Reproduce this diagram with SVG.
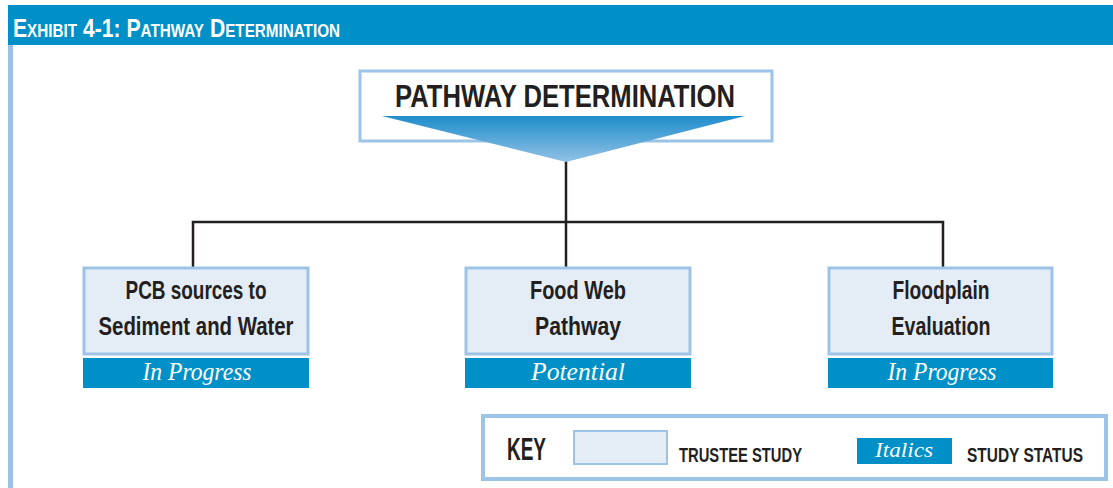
<svg xmlns="http://www.w3.org/2000/svg" width="1113" height="488" viewBox="0 0 1113 488">
<defs>
<linearGradient id="tri" x1="0" y1="0" x2="0" y2="1">
<stop offset="0" stop-color="#1f8dcb"/>
<stop offset="1" stop-color="#92c1e5"/>
</linearGradient>
<style>
.hdr{font-family:"Liberation Sans",Arial,sans-serif;font-weight:bold;fill:#fff;font-variant:small-caps;font-size:25px}
.study{fill:#e4ecf6;stroke:#9dc3e6;stroke-width:3}
.status{fill:#0090c8}
.lbl{font-family:"Liberation Sans",Arial,sans-serif;font-weight:bold;font-size:25px;fill:#231f20;text-anchor:middle}
.st{font-family:"Liberation Serif","Times New Roman",serif;font-style:italic;font-size:25px;fill:#fff;text-anchor:middle}
.conn{fill:none;stroke:#231f20;stroke-width:2.5}
.key{font-family:"Liberation Sans",Arial,sans-serif;font-weight:bold;fill:#231f20}
</style>
</defs>
<rect x="0" y="0" width="1113" height="488" fill="#fff"/>
<g id="header">
<rect x="8" y="5" width="1105" height="40" fill="#0090c8"/>
<rect x="8" y="45" width="5" height="443" fill="#9bc0e4"/>
<text class="hdr" x="13" y="37" textLength="327" lengthAdjust="spacingAndGlyphs">Exhibit 4-1:  Pathway Determination</text>
</g>
<g id="connectors">
<path class="conn" d="M566 160 V222 M193 267 V222 H943 V267 M566 222 V267"/>
</g>
<g id="top">
<rect x="360" y="71" width="412" height="70" fill="#fff" stroke="#9dc3e6" stroke-width="3"/>
<polygon points="382,116 745,116 566,162" fill="url(#tri)"/>
<text class="lbl" x="565" y="107" style="font-size:31px" textLength="340" lengthAdjust="spacingAndGlyphs">PATHWAY DETERMINATION</text>
</g>
<g id="pcb">
<rect class="study" x="84" y="268" width="224" height="86"/>
<text class="lbl" x="196" y="299" textLength="141" lengthAdjust="spacingAndGlyphs">PCB sources to</text>
<text class="lbl" x="196" y="335" textLength="195" lengthAdjust="spacingAndGlyphs">Sediment and Water</text>
<rect class="status" x="83" y="358" width="226" height="30"/>
<text class="st" x="197" y="380" textLength="109" lengthAdjust="spacingAndGlyphs">In Progress</text>
</g>
<g id="foodweb">
<rect class="study" x="466" y="268" width="224" height="86"/>
<text class="lbl" x="578" y="299" textLength="96" lengthAdjust="spacingAndGlyphs">Food Web</text>
<text class="lbl" x="578" y="335" textLength="86" lengthAdjust="spacingAndGlyphs">Pathway</text>
<rect class="status" x="465" y="358" width="226" height="30"/>
<text class="st" x="578" y="380" textLength="94" lengthAdjust="spacingAndGlyphs">Potential</text>
</g>
<g id="floodplain">
<rect class="study" x="829" y="268" width="223" height="86"/>
<text class="lbl" x="941" y="299" textLength="97" lengthAdjust="spacingAndGlyphs">Floodplain</text>
<text class="lbl" x="941" y="335" textLength="99" lengthAdjust="spacingAndGlyphs">Evaluation</text>
<rect class="status" x="828" y="358" width="225" height="30"/>
<text class="st" x="942" y="380" textLength="109" lengthAdjust="spacingAndGlyphs">In Progress</text>
</g>
<g id="key">
<rect x="483" y="416" width="623" height="63" fill="#fff" stroke="#9dc3e6" stroke-width="4"/>
<text class="key" transform="translate(507,460) scale(1,1.3)" font-size="24" textLength="39" lengthAdjust="spacingAndGlyphs">KEY</text>
<rect x="574" y="431" width="93" height="33" fill="#e4ecf6" stroke="#9dc3e6" stroke-width="2"/>
<text class="key" transform="translate(679,462) scale(1,1.3)" font-size="16" textLength="123" lengthAdjust="spacingAndGlyphs">TRUSTEE STUDY</text>
<rect x="857" y="438" width="95" height="26" fill="#0090c8"/>
<text x="904" y="457" font-family="Liberation Serif,'Times New Roman',serif" font-style="italic" font-size="22" fill="#fff" text-anchor="middle" textLength="58" lengthAdjust="spacingAndGlyphs">Italics</text>
<text class="key" transform="translate(967,462) scale(1,1.3)" font-size="16" textLength="116" lengthAdjust="spacingAndGlyphs">STUDY STATUS</text>
</g>
</svg>
